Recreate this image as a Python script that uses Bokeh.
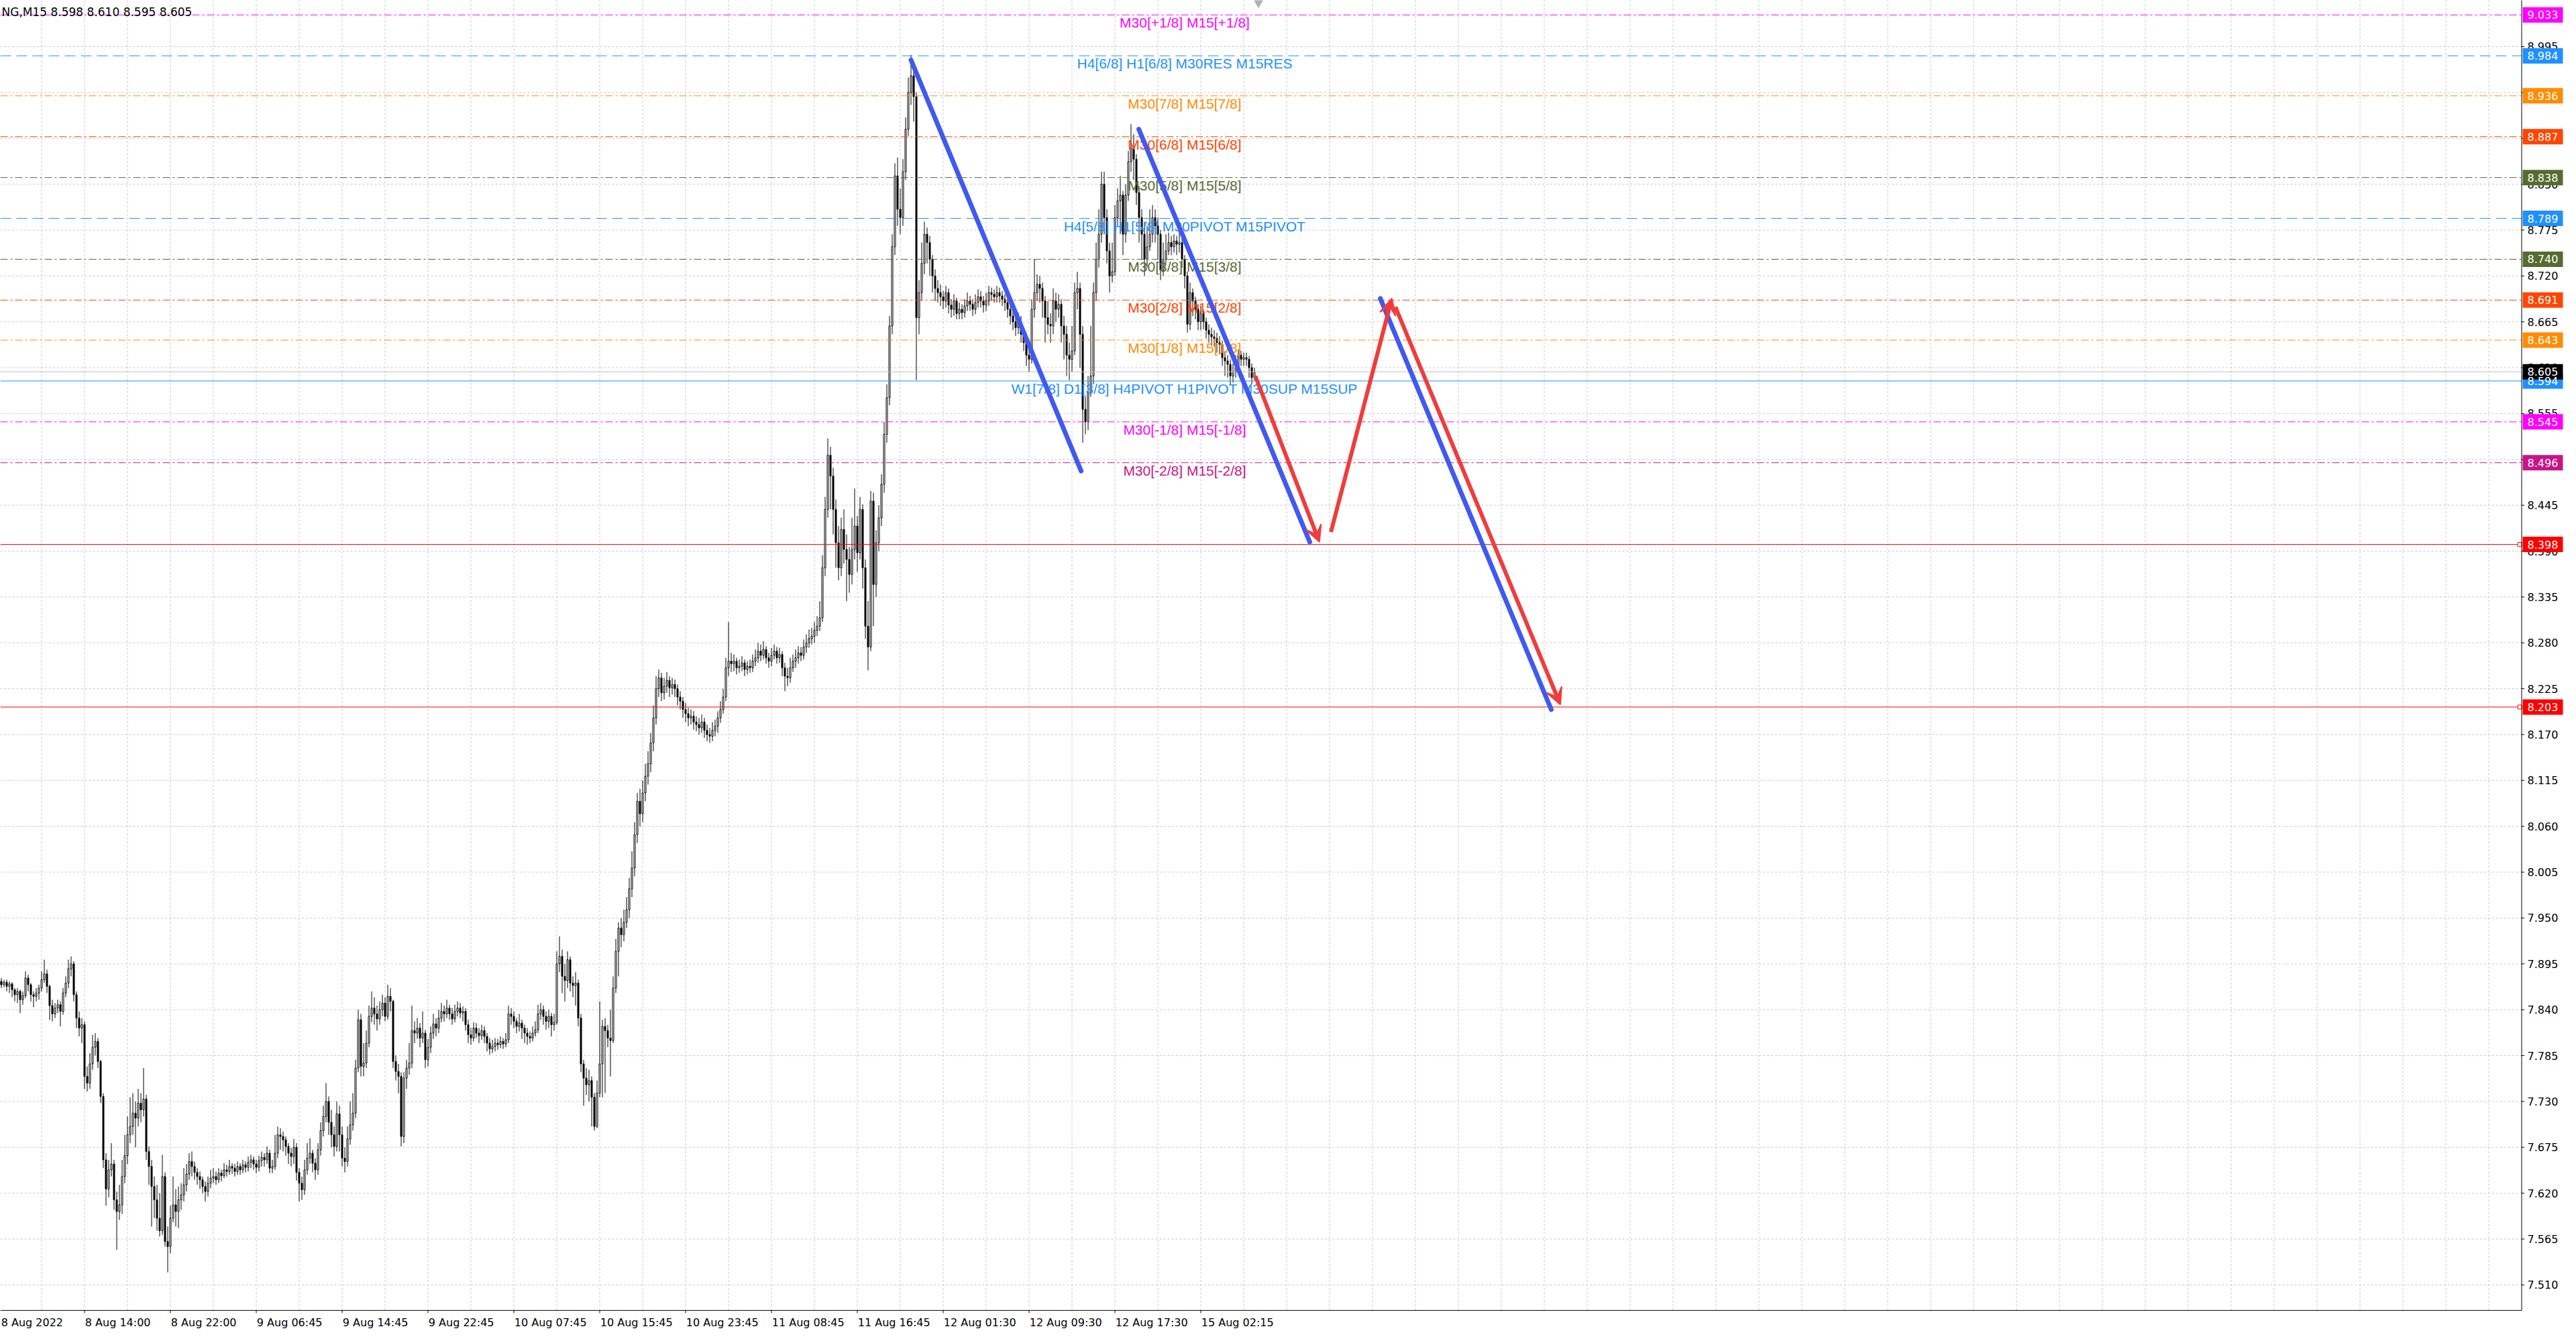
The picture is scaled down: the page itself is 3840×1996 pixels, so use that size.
from bokeh.plotting import figure
from bokeh.models import Arrow, VeeHead, Range1d
from bokeh.core.properties import value
from bokeh.embed import file_html
from bokeh.resources import INLINE

# ---------------- data (NG, M15) ----------------
first_open = 7.870
closes = [
7.874,7.870,7.873,7.868,7.871,7.864,7.858,7.862,7.852,7.857,
7.878,7.870,7.858,7.856,7.860,7.866,7.876,7.883,7.868,7.845,
7.835,7.842,7.846,7.838,7.860,7.872,7.889,7.895,7.858,7.830,
7.818,7.822,7.760,7.752,7.775,7.795,7.802,7.778,7.736,7.660,
7.625,7.648,7.655,7.612,7.598,7.606,7.640,7.665,7.690,7.700,
7.716,7.710,7.728,7.720,7.733,7.670,7.652,7.628,7.612,7.590,
7.575,7.640,7.562,7.556,7.590,7.606,7.598,7.612,7.618,7.630,
7.643,7.658,7.652,7.645,7.640,7.636,7.628,7.622,7.632,7.638,
7.640,7.636,7.644,7.641,7.648,7.646,7.652,7.650,7.646,7.652,
7.648,7.654,7.651,7.657,7.660,7.655,7.651,7.659,7.663,7.660,
7.668,7.650,7.652,7.668,7.690,7.688,7.684,7.676,7.668,7.664,
7.675,7.645,7.632,7.624,7.648,7.662,7.668,7.656,7.648,7.672,
7.695,7.712,7.730,7.705,7.690,7.676,7.715,7.690,7.662,7.658,
7.685,7.702,7.716,7.770,7.828,7.772,7.776,7.800,7.832,7.842,
7.835,7.829,7.840,7.848,7.832,7.856,7.850,7.778,7.766,7.760,
7.688,7.758,7.770,7.776,7.815,7.812,7.818,7.806,7.812,7.780,
7.795,7.812,7.823,7.818,7.830,7.838,7.835,7.842,7.835,7.829,
7.838,7.842,7.836,7.838,7.822,7.810,7.806,7.818,7.812,7.809,
7.815,7.808,7.800,7.793,7.796,7.800,7.798,7.802,7.799,7.804,
7.835,7.832,7.826,7.820,7.824,7.818,7.812,7.808,7.806,7.812,
7.816,7.835,7.840,7.832,7.826,7.832,7.822,7.825,7.895,7.904,
7.880,7.875,7.900,7.872,7.869,7.872,7.830,7.775,7.758,7.750,
7.755,7.735,7.700,7.740,7.775,7.820,7.815,7.806,7.803,7.866,
7.910,7.938,7.930,7.945,7.960,7.985,8.010,8.050,8.090,8.075,
8.100,8.120,8.135,8.160,8.190,8.225,8.238,8.220,8.228,8.235,
8.226,8.230,8.225,8.215,8.210,8.200,8.195,8.190,8.192,8.185,
8.182,8.178,8.185,8.175,8.170,8.168,8.175,8.180,8.190,8.200,
8.215,8.250,8.258,8.255,8.258,8.250,8.252,8.256,8.248,8.252,
8.250,8.258,8.262,8.270,8.265,8.272,8.262,8.258,8.265,8.270,
8.262,8.266,8.250,8.240,8.238,8.250,8.258,8.262,8.268,8.265,
8.275,8.280,8.285,8.288,8.295,8.300,8.310,8.370,8.440,8.505,
8.480,8.440,8.400,8.370,8.416,8.392,8.380,8.362,8.392,8.420,
8.388,8.440,8.370,8.300,8.275,8.450,8.350,8.400,8.430,8.470,
8.530,8.574,8.660,8.755,8.840,8.800,8.790,8.845,8.896,8.940,
8.960,8.935,8.670,8.700,8.735,8.770,8.760,8.740,8.720,8.705,
8.700,8.695,8.690,8.700,8.685,8.680,8.690,8.675,8.680,8.676,
8.684,8.690,8.686,8.680,8.688,8.695,8.690,8.685,8.690,8.700,
8.698,8.695,8.700,8.696,8.692,8.688,8.680,8.672,8.665,8.658,
8.665,8.650,8.640,8.625,8.620,8.680,8.700,8.710,8.705,8.690,
8.670,8.662,8.660,8.690,8.680,8.686,8.660,8.650,8.625,8.620,
8.630,8.700,8.705,8.650,8.560,8.545,8.580,8.600,8.700,8.740,
8.770,8.830,8.790,8.750,8.720,8.725,8.790,8.810,8.817,8.770,
8.817,8.857,8.873,8.860,8.820,8.790,8.770,8.740,8.755,8.770,
8.790,8.780,8.770,8.727,8.740,8.750,8.760,8.755,8.762,8.758,
8.760,8.740,8.720,8.662,8.700,8.690,8.680,8.665,8.675,8.665,
8.655,8.650,8.647,8.645,8.640,8.638,8.622,8.618,8.614,8.600,
8.605,8.610,8.625,8.620,8.622,8.620,8.610,8.598,8.605]
highs = [
7.880,7.878,7.876,7.876,7.874,7.873,7.866,7.866,7.864,7.862,
7.886,7.882,7.872,7.862,7.866,7.870,7.886,7.900,7.888,7.870,
7.852,7.848,7.852,7.850,7.866,7.880,7.900,7.904,7.898,7.862,
7.838,7.830,7.826,7.772,7.788,7.810,7.812,7.806,7.780,7.740,
7.668,7.660,7.680,7.660,7.622,7.630,7.660,7.690,7.712,7.735,
7.740,7.730,7.745,7.740,7.770,7.738,7.676,7.660,7.640,7.630,
7.620,7.666,7.645,7.580,7.605,7.640,7.625,7.628,7.632,7.650,
7.655,7.668,7.670,7.658,7.650,7.646,7.640,7.634,7.640,7.648,
7.650,7.646,7.650,7.648,7.656,7.654,7.660,7.656,7.655,7.658,
7.656,7.660,7.658,7.664,7.666,7.664,7.660,7.665,7.670,7.668,
7.676,7.672,7.660,7.690,7.700,7.698,7.694,7.688,7.680,7.674,
7.685,7.680,7.650,7.640,7.660,7.680,7.686,7.672,7.662,7.680,
7.705,7.725,7.752,7.736,7.720,7.700,7.730,7.725,7.700,7.675,
7.700,7.730,7.740,7.780,7.840,7.835,7.800,7.815,7.845,7.862,
7.855,7.845,7.850,7.858,7.855,7.870,7.866,7.852,7.785,7.775,
7.765,7.765,7.780,7.800,7.845,7.826,7.830,7.824,7.838,7.816,
7.805,7.820,7.835,7.830,7.840,7.848,7.845,7.852,7.846,7.842,
7.846,7.850,7.848,7.844,7.842,7.828,7.818,7.825,7.824,7.818,
7.822,7.820,7.812,7.806,7.804,7.806,7.805,7.808,7.806,7.812,
7.845,7.842,7.838,7.830,7.835,7.828,7.822,7.818,7.814,7.820,
7.826,7.846,7.848,7.845,7.838,7.840,7.836,7.835,7.910,7.928,
7.912,7.895,7.910,7.904,7.880,7.885,7.876,7.835,7.780,7.770,
7.768,7.760,7.740,7.755,7.850,7.828,7.830,7.822,7.840,7.880,
7.925,7.945,7.950,7.960,7.975,7.998,8.030,8.065,8.100,8.105,
8.115,8.135,8.150,8.172,8.205,8.240,8.248,8.244,8.238,8.245,
8.240,8.238,8.236,8.230,8.222,8.215,8.208,8.202,8.200,8.198,
8.192,8.190,8.194,8.190,8.182,8.178,8.185,8.188,8.198,8.210,
8.225,8.262,8.305,8.268,8.266,8.262,8.260,8.264,8.260,8.258,
8.260,8.266,8.272,8.280,8.278,8.282,8.276,8.268,8.274,8.278,
8.275,8.274,8.270,8.256,8.250,8.262,8.266,8.272,8.276,8.275,
8.284,8.290,8.296,8.298,8.305,8.312,8.330,8.385,8.455,8.525,
8.515,8.490,8.452,8.420,8.430,8.440,8.410,8.395,8.430,8.465,
8.432,8.455,8.446,8.380,8.330,8.462,8.460,8.415,8.445,8.482,
8.545,8.590,8.672,8.770,8.855,8.862,8.825,8.860,8.910,8.958,
8.985,8.970,8.940,8.715,8.760,8.785,8.778,8.768,8.745,8.728,
8.715,8.710,8.702,8.708,8.705,8.692,8.698,8.694,8.688,8.686,
8.692,8.700,8.696,8.692,8.698,8.704,8.702,8.696,8.700,8.708,
8.706,8.704,8.708,8.706,8.702,8.698,8.694,8.686,8.680,8.672,
8.676,8.672,8.658,8.650,8.640,8.692,8.740,8.722,8.720,8.712,
8.696,8.690,8.675,8.705,8.700,8.698,8.692,8.672,8.660,8.640,
8.660,8.712,8.725,8.712,8.660,8.575,8.600,8.660,8.712,8.760,
8.800,8.845,8.845,8.800,8.760,8.760,8.805,8.825,8.840,8.822,
8.830,8.870,8.902,8.890,8.866,8.828,8.800,8.785,8.780,8.800,
8.805,8.800,8.790,8.775,8.760,8.770,8.772,8.768,8.770,8.768,
8.775,8.765,8.745,8.725,8.712,8.705,8.695,8.686,8.684,8.680,
8.670,8.662,8.658,8.655,8.652,8.648,8.642,8.630,8.625,8.620,
8.615,8.625,8.632,8.630,8.628,8.628,8.624,8.615,8.610]
lows = [
7.866,7.866,7.867,7.862,7.860,7.855,7.850,7.848,7.836,7.846,
7.854,7.862,7.850,7.843,7.850,7.852,7.862,7.872,7.860,7.828,
7.826,7.830,7.836,7.820,7.834,7.855,7.866,7.880,7.850,7.818,
7.808,7.800,7.745,7.742,7.745,7.768,7.785,7.770,7.728,7.650,
7.605,7.615,7.640,7.600,7.552,7.588,7.595,7.632,7.655,7.680,
7.690,7.675,7.700,7.705,7.712,7.660,7.630,7.580,7.590,7.575,
7.568,7.570,7.556,7.525,7.548,7.585,7.580,7.578,7.600,7.610,
7.622,7.636,7.640,7.636,7.630,7.625,7.620,7.610,7.616,7.626,
7.632,7.630,7.632,7.634,7.638,7.640,7.642,7.643,7.640,7.642,
7.642,7.644,7.645,7.646,7.650,7.648,7.644,7.646,7.652,7.652,
7.655,7.644,7.644,7.648,7.662,7.672,7.670,7.665,7.655,7.652,
7.655,7.635,7.610,7.612,7.618,7.642,7.655,7.645,7.636,7.642,
7.665,7.688,7.705,7.690,7.675,7.664,7.670,7.670,7.652,7.645,
7.652,7.678,7.695,7.710,7.765,7.760,7.760,7.770,7.795,7.825,
7.822,7.815,7.822,7.832,7.826,7.828,7.838,7.770,7.755,7.740,
7.676,7.680,7.745,7.762,7.770,7.800,7.805,7.795,7.800,7.770,
7.772,7.788,7.805,7.808,7.812,7.825,7.826,7.830,7.828,7.822,
7.825,7.832,7.830,7.826,7.815,7.800,7.798,7.802,7.806,7.800,
7.804,7.800,7.790,7.786,7.788,7.790,7.792,7.794,7.793,7.795,
7.800,7.822,7.818,7.812,7.814,7.805,7.800,7.798,7.800,7.802,
7.808,7.812,7.828,7.822,7.816,7.818,7.808,7.815,7.822,7.885,
7.860,7.850,7.866,7.862,7.855,7.845,7.820,7.765,7.725,7.738,
7.730,7.700,7.695,7.698,7.735,7.735,7.740,7.795,7.760,7.800,
7.860,7.880,7.915,7.922,7.938,7.950,7.975,8.000,8.040,8.060,
8.065,8.090,8.110,8.125,8.150,8.182,8.215,8.210,8.212,8.220,
8.215,8.218,8.215,8.205,8.200,8.190,8.185,8.180,8.182,8.176,
8.174,8.170,8.172,8.166,8.162,8.160,8.162,8.168,8.172,8.184,
8.195,8.210,8.240,8.245,8.246,8.242,8.244,8.246,8.240,8.242,
8.244,8.245,8.252,8.256,8.258,8.260,8.255,8.250,8.252,8.260,
8.255,8.256,8.240,8.222,8.228,8.232,8.245,8.250,8.255,8.258,
8.260,8.268,8.274,8.278,8.280,8.288,8.294,8.305,8.360,8.430,
8.440,8.410,8.370,8.355,8.360,8.375,8.330,8.340,8.350,8.380,
8.365,8.380,8.345,8.285,8.247,8.270,8.300,8.335,8.390,8.420,
8.460,8.520,8.565,8.650,8.745,8.780,8.770,8.780,8.835,8.888,
8.925,8.905,8.595,8.650,8.690,8.722,8.735,8.720,8.700,8.690,
8.688,8.684,8.680,8.682,8.675,8.670,8.672,8.668,8.668,8.668,
8.670,8.678,8.678,8.672,8.674,8.682,8.682,8.676,8.678,8.684,
8.690,8.688,8.688,8.688,8.684,8.678,8.670,8.662,8.655,8.648,
8.650,8.640,8.630,8.612,8.605,8.615,8.670,8.690,8.688,8.670,
8.640,8.650,8.640,8.650,8.665,8.670,8.640,8.620,8.600,8.595,
8.605,8.625,8.680,8.610,8.520,8.530,8.535,8.575,8.590,8.690,
8.730,8.760,8.770,8.735,8.700,8.712,8.720,8.780,8.770,8.745,
8.760,8.810,8.845,8.835,8.805,8.760,8.740,8.720,8.730,8.750,
8.760,8.760,8.740,8.715,8.720,8.735,8.745,8.745,8.748,8.745,
8.748,8.730,8.705,8.652,8.655,8.672,8.668,8.655,8.655,8.656,
8.645,8.640,8.636,8.635,8.628,8.626,8.612,8.600,8.598,8.590,
8.592,8.598,8.605,8.612,8.612,8.612,8.598,8.590,8.595]

time_labels = ["8 Aug 2022", "8 Aug 14:00", "8 Aug 22:00", "9 Aug 06:45", "9 Aug 14:45",
               "9 Aug 22:45", "10 Aug 07:45", "10 Aug 15:45", "10 Aug 23:45", "11 Aug 08:45",
               "11 Aug 16:45", "12 Aug 01:30", "12 Aug 09:30", "12 Aug 17:30", "15 Aug 02:15"]
bars_per_label = 32

price_ticks = [7.510, 7.565, 7.620, 7.675, 7.730, 7.785, 7.840, 7.895, 7.950, 8.005,
               8.060, 8.115, 8.170, 8.225, 8.280, 8.335, 8.390, 8.445, 8.500, 8.555,
               8.610, 8.665, 8.720, 8.775, 8.830, 8.885, 8.940, 8.995]

level_prices = [9.033, 8.984, 8.936, 8.887, 8.838, 8.789, 8.740, 8.691, 8.643, 8.594, 8.545, 8.496]
level_texts = ["M30[+1/8] M15[+1/8]", "H4[6/8] H1[6/8] M30RES M15RES", "M30[7/8] M15[7/8]",
               "M30[6/8] M15[6/8]", "M30[5/8] M15[5/8]", "H4[5/8] H1[5/8] M30PIVOT M15PIVOT",
               "M30[3/8] M15[3/8]", "M30[2/8] M15[2/8]", "M30[1/8] M15[1/8]",
               "W1[7/8] D1[3/8] H4PIVOT H1PIVOT M30SUP M15SUP", "M30[-1/8] M15[-1/8]",
               "M30[-2/8] M15[-2/8]"]
level_colors = ["#FF00FF", "#1E90FF", "#FF8C00", "#FF4500", "#556B2F", "#1E90FF",
                "#556B2F", "#FF4500", "#FF8C00", "#1E90FF", "#FF00FF", "#C71585"]
level_styles = ["dashdot", "dash", "dashdot", "dashdot", "dashdot", "dash",
                "dashdot", "dashdot", "dashdot", "solid", "dashdot", "dashdot"]

sr_prices = [8.398, 8.203]
bid_price = 8.605
header_text = "NG,M15  8.598 8.610 8.595 8.605"

blue_start_bar = [340.0, 424.9, 514.9]
blue_start_price = [8.979, 8.896, 8.693]
blue_end_bar = [403.4, 488.6, 578.6]
blue_end_price = [8.486, 8.401, 8.200]
red_start_bar = [468.3, 496.5, 520.5]
red_start_price = [8.600, 8.413, 8.683]
red_end_bar = [492.2, 519.2, 582.0]
red_end_price = [8.401, 8.693, 8.206]

# ---------------- geometry (4 px per bar, ~1243 px per price unit) ----------------
W, H = 3824, 1980
XA, XB = 0.625, 0.625 + W / 4.0          # canvas x-range in bars
YA, YB = 7.4576, 9.0505                  # canvas y-range in price
PPU = H / (YB - YA)                      # pixels per price unit
BOX_R = 940.25                           # right edge of chart box (bars)
BOX_B = 7.4794                           # bottom edge of chart box (price)
BOX_T = YB + 1.0

p = figure(width=W, height=H, output_backend="svg", toolbar_location=None,
           x_range=Range1d(XA, XB), y_range=Range1d(YA, YB),
           x_axis_location=None, y_axis_location=None,
           min_border_left=0, min_border_right=0, min_border_top=0, min_border_bottom=0)
p.background_fill_color = "white"
p.border_fill_color = "white"
p.outline_line_color = None
p.grid.visible = False

FONT = "DejaVu Sans"

# grid
grid_col = "#C6C6C6"
gx = list(range(0, int(BOX_R), 16))
p.segment(x0=gx, y0=[BOX_B] * len(gx), x1=gx, y1=[BOX_T] * len(gx),
          line_color=grid_col, line_width=1, line_dash="3 3")
p.segment(x0=[XA] * len(price_ticks), y0=price_ticks, x1=[BOX_R] * len(price_ticks), y1=price_ticks,
          line_color=grid_col, line_width=1, line_dash="3 3")

# candles
n = len(closes)
opens = [first_open] + closes[:-1]
idx = list(range(n))
p.segment(x0=idx, y0=lows, x1=idx, y1=highs, line_color="black", line_width=1)
tops = [max(o, c) for o, c in zip(opens, closes)]
bots = [min(o, c) for o, c in zip(opens, closes)]
fills = ["white" if c > o else "black" for o, c in zip(opens, closes)]
p.vbar(x=idx, top=tops, bottom=bots, width=0.5, fill_color=fills, line_color="black", line_width=1)

# bid line
p.segment(x0=[XA], y0=[bid_price], x1=[BOX_R], y1=[bid_price], line_color="#C0C0C0", line_width=1)

# Murrey levels
dash_map = {"dashdot": "11 4 3 4", "dash": "16 8", "solid": "solid"}
for pr, col, st in zip(level_prices, level_colors, level_styles):
    p.segment(x0=[XA], y0=[pr], x1=[BOX_R], y1=[pr], line_color=col, line_width=1,
              line_dash=dash_map[st])
p.text(x=[442.0] * len(level_prices), y=level_prices, text=level_texts,
       text_color=level_colors, text_font=value("Liberation Sans"), text_font_size="21px",
       text_align="center", text_baseline="top")

# support/resistance red lines
for pr in sr_prices:
    p.segment(x0=[XA], y0=[pr], x1=[BOX_R], y1=[pr], line_color="#FF0000", line_width=1)
p.scatter(x=[BOX_R - 0.7] * 2, y=sr_prices, marker="square", size=6,
          fill_color="white", line_color="#FF0000", line_width=1)

# chart shift marker
p.scatter(x=[469.5], y=[9.0489], marker="inverted_triangle", size=17,
          fill_color="#B0B0B0", line_color=None)

# projection lines
blue = "#4059F0"
red = "#F03C3C"
for xs, ys, xe, ye in zip(blue_start_bar, blue_start_price, blue_end_bar, blue_end_price):
    p.line(x=[xs, xe], y=[ys, ye], line_color=blue, line_width=7, line_cap="round")
for xs, ys, xe, ye in zip(red_start_bar, red_start_price, red_end_bar, red_end_price):
    p.add_layout(Arrow(x_start=xs, y_start=ys, x_end=xe, y_end=ye, line_color=red, line_width=6,
                       end=VeeHead(size=24, fill_color=red, line_color=red, line_width=2)))

# chart box (right and bottom edges)
p.segment(x0=[BOX_R, XA], y0=[BOX_B, BOX_B], x1=[BOX_R, BOX_R], y1=[BOX_T, BOX_B],
          line_color="black", line_width=1)

# right price scale
tick_len_bars = 1.0
p.segment(x0=[BOX_R] * len(price_ticks), y0=price_ticks, x1=[BOX_R + tick_len_bars] * len(price_ticks),
          y1=price_ticks, line_color="black", line_width=1)
p.text(x=[BOX_R + 2.15] * len(price_ticks), y=price_ticks, text=[f"{v:.3f}" for v in price_ticks],
       text_color="black", text_font=value(FONT), text_font_size="16px",
       text_align="left", text_baseline="middle")

# coloured price boxes on the scale
box_prices = level_prices + sr_prices + [bid_price]
box_colors = level_colors + ["#FF0000", "#FF0000"] + ["#000000"]
half_h = 11.5 / PPU
p.quad(left=[BOX_R + 0.375] * len(box_prices), right=[BOX_R + 15.375] * len(box_prices),
       bottom=[v - half_h for v in box_prices], top=[v + half_h for v in box_prices],
       fill_color=box_colors, line_color=None)
p.text(x=[BOX_R + 2.15] * len(box_prices), y=box_prices, text=[f"{v:.3f}" for v in box_prices],
       text_color="white", text_font=value(FONT), text_font_size="16px",
       text_align="left", text_baseline="middle")

# bottom time scale
tick_pos = [i * bars_per_label for i in range(len(time_labels))]
p.segment(x0=tick_pos, y0=[BOX_B] * len(tick_pos), x1=tick_pos, y1=[BOX_B - 4 / PPU] * len(tick_pos),
          line_color="black", line_width=1)
label_x = [max(t + 0.2, XA + 0.3) for t in tick_pos]
p.text(x=label_x, y=[BOX_B - 18.0 / PPU] * len(tick_pos), text=time_labels,
       text_color="black", text_font=value(FONT), text_font_size="16px",
       text_align="left", text_baseline="alphabetic")

# header
p.text(x=[1.125], y=[9.0364], text=[header_text], text_color="black",
       text_font=value(FONT), text_font_size="17px", text_align="left", text_baseline="alphabetic")

open("out.html", "w").write(file_html(p, INLINE))
